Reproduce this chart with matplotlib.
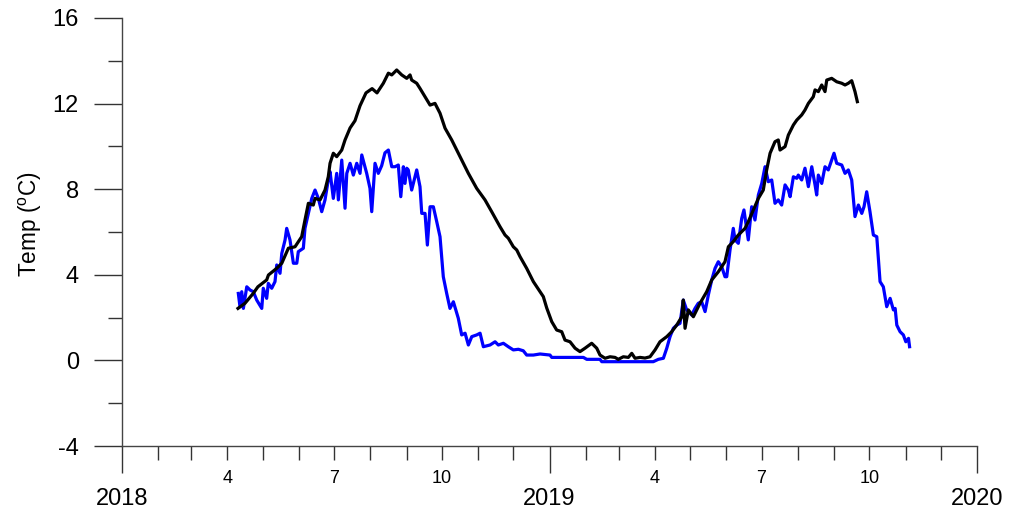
import numpy as np
import pandas as pd
import matplotlib
matplotlib.use("Agg")
import matplotlib.pyplot as plt
import matplotlib.dates as mdates
from matplotlib.ticker import MultipleLocator, FuncFormatter

plt.rcParams['font.family'] = ['Liberation Sans', 'DejaVu Sans']
plt.rcParams['mathtext.fontset'] = 'custom'
plt.rcParams['mathtext.rm'] = 'Liberation Sans'
plt.rcParams['axes.unicode_minus'] = False

# days since 2018-01-01 and temperature (degC)
black_day = [99, 105, 112, 116, 123.5, 125, 132, 136.4, 142, 147.7, 153.4, 156.2, 159.1,
             163.3, 164.8, 169.1, 173.3, 176.1, 177.6, 180.4, 183.3, 187.6, 190.4, 194.7,
             198.9, 203.2, 208.3, 213.5, 217.7, 223.1, 227.4, 230.3, 234.5, 238.8, 243.1,
             245.9, 247.3, 251.6, 254.4, 258.7, 263.0, 267.2, 271.5, 275.8, 281.5, 288.6,
             295.7, 302.8, 309.9, 315.6, 322.7, 327.0, 329.8, 334.1, 337.0, 339.8, 345.5,
             351.2, 356.9, 359.7, 362.6, 366.9, 371.1, 375.4, 378.2, 382.5, 386.8, 391.0,
             395.3, 401.0, 405.3, 408.1, 412.4, 416.7, 420.9, 423.7, 428.0, 432.3, 435.2,
             438.0, 442.3, 446.5, 450.8, 455.1, 459.3, 465.1, 469.3, 473.6, 477.9, 479.2,
             480.7, 483.5, 487.8, 493.5, 499.2, 503.5, 509.1, 514.8, 517.7, 521.9, 526.2,
             531.9, 534.7, 539.0, 543.3, 547.5, 550.4, 553.3, 557.5, 560.3, 561.8, 566.1,
             568.9, 573.2, 576.1, 580.3, 583.1, 586.0, 590.2, 591.7, 594.5, 597.4, 600.2,
             601.7, 605.9, 610.2, 614.5, 617.3, 620.1, 623.0, 625.8, 627.8]
black_temp = [2.43, 2.67, 3.13, 3.44, 3.76, 3.99, 4.30, 4.54, 5.24, 5.31, 5.78, 6.56, 7.34,
              7.26, 7.57, 7.50, 7.96, 8.58, 9.21, 9.68, 9.52, 9.83, 10.3, 10.86,
              11.2, 11.9, 12.5, 12.7, 12.5, 12.95, 13.42, 13.34, 13.57, 13.34, 13.18,
              13.34, 13.10, 12.95, 12.71, 12.32, 11.93, 12.01, 11.55, 10.85, 10.30, 9.52,
              8.74, 8.04, 7.50, 6.95, 6.25, 5.86, 5.71, 5.31, 5.16, 4.85, 4.30,
              3.68, 3.21, 2.98, 2.45, 1.81, 1.42, 1.34, 0.95, 0.87, 0.57, 0.41,
              0.57, 0.80, 0.57, 0.25, 0.10, 0.17, 0.14, 0.05, 0.17, 0.14, 0.33,
              0.10, 0.14, 0.11, 0.17, 0.49, 0.87, 1.11, 1.34, 1.65, 2.04, 2.82,
              1.50, 2.36, 2.04, 2.67, 3.21, 3.76, 4.14, 4.61, 5.31, 5.55, 5.86,
              6.17, 6.48, 7.03, 7.57, 7.96, 8.90, 9.68, 10.22, 10.30, 9.83, 9.99,
              10.53, 11.0, 11.23, 11.47, 11.70, 12.01, 12.32, 12.64, 12.56, 12.87, 12.56,
              13.10, 13.18, 13.02, 12.95, 12.87, 12.95, 13.07, 12.56, 12.09]

blue_day = [99.3, 100.7, 102.2, 103.6, 106.5, 109.3, 112.1, 115.0, 119.3, 120.6, 123.5, 124.9,
            127.8, 130.6, 132.1, 134.9, 136.4, 139.2, 140.6, 143.4, 146.3, 149.2, 150.5,
            154.8, 156.2, 159.1, 162.0, 164.8, 167.6, 170.5, 173.3, 176.1, 177.6, 180.4,
            183.3, 184.7, 187.6, 190.4, 191.9, 194.7, 197.5, 200.4, 203.2, 204.7, 208.9,
            211.7, 213.2, 216.0, 218.8, 221.7, 224.5, 227.4, 230.3, 233.1, 235.9, 238.0,
            240.2, 241.6, 243.1, 244.4, 247.3, 251.6, 254.4, 255.9, 258.7, 260.7, 263.0,
            265.8, 268.7, 271.5, 274.3, 277.2, 280.0, 282.9, 287.1, 290.0, 292.9, 295.7,
            298.6, 302.8, 305.7, 308.5, 314.2, 318.5, 321.3, 325.6, 329.8, 334.1, 338.4,
            342.6, 345.5, 351.2, 356.9, 365.4, 366.9, 393.9, 396.8, 408.1, 409.6, 453.6,
            457.9, 462.2, 465.1, 467.9, 470.7, 473.6, 476.4, 479.2, 482.1, 486.4, 489.2,
            492.0, 494.9, 497.8, 500.6, 503.5, 506.3, 509.1, 512.0, 514.8, 516.3, 519.1,
            521.9, 523.4, 526.2, 529.1, 531.0, 534.7, 537.6, 540.4, 543.3, 546.2, 549.0,
            551.8, 554.7, 557.5, 560.3, 563.2, 566.1, 568.9, 570.4, 573.2, 576.1, 577.4,
            580.3, 583.1, 586.0, 588.9, 591.7, 593.1, 594.5, 597.4, 600.2, 603.0, 605.9,
            607.9, 610.2, 614.5, 617.3, 620.1, 623.0, 625.8, 628.7, 631.6, 633.5, 635.8,
            638.6, 641.5, 644.4, 647.2, 650.0, 652.9, 655.8, 658.6, 660.1, 661.5, 664.3,
            667.1, 669.2, 671.5, 672.4]
blue_temp = [3.13, 2.51, 3.21, 2.43, 3.44, 3.29, 3.21, 2.82, 2.43, 3.37, 2.90, 3.60,
             3.37, 3.68, 4.46, 4.07, 5.00, 5.63, 6.17, 5.63, 4.54, 4.54, 5.08,
             5.24, 6.17, 6.87, 7.57, 7.96, 7.57, 6.95, 7.50, 8.43, 8.82, 7.57,
             8.74, 7.50, 9.36, 7.11, 8.74, 9.21, 8.66, 9.21, 8.74, 9.60, 8.74,
             8.04, 6.95, 9.21, 8.74, 9.10, 9.70, 9.83, 9.05, 9.05, 9.13, 7.65,
             9.05, 8.27, 8.98, 8.90, 7.96, 8.90, 8.12, 6.87, 6.87, 5.39, 7.18,
             7.18, 6.48, 5.78, 3.91, 3.13, 2.43, 2.74, 1.97, 1.19, 1.27, 0.72,
             1.11, 1.19, 1.27, 0.64, 0.72, 0.87, 0.72, 0.80, 0.64, 0.49, 0.52,
             0.45, 0.25, 0.25, 0.30, 0.25, 0.14, 0.14, 0.05, 0.05, -0.06, -0.06,
             0.05, 0.10, 0.57, 1.11, 1.50, 1.65, 1.73, 2.82, 2.36, 2.12, 2.43,
             2.67, 2.74, 2.28, 3.06, 3.76, 4.30, 4.61, 4.38, 3.91, 3.91, 5.16,
             6.17, 5.63, 5.47, 6.64, 7.03, 5.63, 7.18, 6.56, 7.73, 8.27, 9.05,
             8.35, 8.43, 7.34, 7.50, 7.26, 8.20, 7.96, 7.65, 8.58, 8.51, 8.66,
             8.43, 8.98, 8.12, 9.05, 8.20, 7.73, 8.66, 8.27, 9.05, 8.90, 9.36,
             9.68, 9.21, 9.13, 8.74, 8.90, 8.43, 6.72, 7.26, 6.87, 7.18, 7.88,
             6.95, 5.86, 5.78, 3.68, 3.44, 2.51, 2.90, 2.36, 2.43, 1.65, 1.34,
             1.19, 0.87, 1.03, 0.64]

start = pd.Timestamp('2018-01-01')
black_dates = start + pd.to_timedelta(black_day, unit='D')
blue_dates = start + pd.to_timedelta(blue_day, unit='D')

fig = plt.figure(figsize=(10.11, 5.20), dpi=100)
ax = fig.add_axes([0.1207, 0.1423, 0.8457, 0.8231])

ax.plot(blue_dates, blue_temp, color='#0000FF', lw=2.3)
ax.plot(black_dates, black_temp, color='black', lw=2.3)

ax.set_xlim(pd.Timestamp('2018-01-01'), pd.Timestamp('2020-01-01'))
ax.set_ylim(-4, 16)

for s in ['top', 'right']:
    ax.spines[s].set_visible(False)
for s in ['left', 'bottom']:
    ax.spines[s].set_color('#444444')
    ax.spines[s].set_linewidth(1.0)

ax.yaxis.set_major_locator(MultipleLocator(4))
ax.yaxis.set_minor_locator(MultipleLocator(2))
ax.tick_params(axis='y', which='major', length=20, width=1, color='#333333',
               labelsize=17, pad=11)
ax.tick_params(axis='y', which='minor', length=10, width=1, color='#333333')

ax.xaxis.set_major_locator(mdates.YearLocator())
ax.xaxis.set_major_formatter(mdates.DateFormatter('%Y'))
ax.xaxis.set_minor_locator(mdates.MonthLocator(bymonth=range(2, 13)))


def month_label(x, pos):
    m = mdates.num2date(x).month
    return str(m) if m in (4, 7, 10) else ''


ax.xaxis.set_minor_formatter(FuncFormatter(month_label))
ax.tick_params(axis='x', which='major', length=19.5, width=1, color='#333333',
               labelsize=17, pad=11)
ax.tick_params(axis='x', which='minor', length=10, width=1, color='#333333',
               labelsize=13, pad=7.5)

ax.set_ylabel(r'Temp ($\mathregular{^o}$C)', fontsize=16.3)
ax.yaxis.set_label_coords(-0.091, 0.518)

fig.savefig('out.png', dpi=100)
